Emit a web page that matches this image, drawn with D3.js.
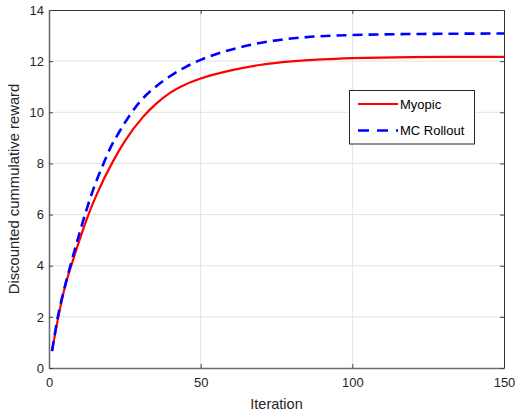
<!DOCTYPE html>
<html>
<head>
<meta charset="utf-8">
<script src="https://cdn.jsdelivr.net/npm/d3@7"></script>
<style>
  html, body { margin: 0; padding: 0; background: #fff; }
  svg { display: block; font-family: "Liberation Sans", Arial, Helvetica, sans-serif; }
</style>
</head>
<body>
<svg id="chart" width="516" height="415"></svg>
<script>
// ---- data ----
const myopicIter = [1, 3, 5, 8, 10, 13, 16, 21, 25, 31, 35, 40, 45, 50, 60, 70, 80, 90, 100, 120, 150];
const myopicVals = [0.66, 1.95, 3.05, 4.25, 4.98, 6.0, 6.86, 8.06, 8.87, 9.82, 10.3, 10.77, 11.09, 11.32, 11.64, 11.86, 11.99, 12.07, 12.12, 12.16, 12.17];

const mcIter = [1, 3, 5, 7, 10, 12, 15, 18, 20, 23, 27, 30, 35, 40, 45, 50, 55, 60, 70, 76, 85, 100, 120, 150];
const mcVals = [0.66, 2.05, 3.08, 3.98, 5.25, 6.05, 7.12, 8.0, 8.55, 9.2, 9.95, 10.42, 10.98, 11.42, 11.77, 12.05, 12.27, 12.45, 12.72, 12.83, 12.94, 13.02, 13.06, 13.08];

const seriesNames = ["Myopic", "MC Rollout"];
const xTicks = [0, 50, 100, 150];
const yTicks = [0, 2, 4, 6, 8, 10, 12, 14];
const xLabel = "Iteration";
const yLabel = "Discounted cummulative reward";

// ---- layout ----
const svg = d3.select("#chart");
const L = 49, R = 504, T = 10, B = 368;

const x = d3.scaleLinear().domain([0, 150]).range([L, R]);
const y = d3.scaleLinear().domain([0, 14]).range([B, T]);

// grid
const g = svg.append("g");
g.selectAll(".gx").data(xTicks.slice(1, -1)).enter().append("line")
  .attr("x1", d => x(d)).attr("x2", d => x(d)).attr("y1", T).attr("y2", B)
  .attr("stroke", "#e3e3e3").attr("stroke-width", 1);
g.selectAll(".gy").data(yTicks.slice(1, -1)).enter().append("line")
  .attr("x1", L).attr("x2", R).attr("y1", d => y(d)).attr("y2", d => y(d))
  .attr("stroke", "#e3e3e3").attr("stroke-width", 1);

// axes (ticks inside, MATLAB style)
const tickLen = 4;
const axB = svg.append("g").attr("transform", `translate(0,${B})`)
  .call(d3.axisBottom(x).tickValues(xTicks).tickSize(-tickLen).tickPadding(10).tickSizeOuter(0));
const axT = svg.append("g").attr("transform", `translate(0,${T})`)
  .call(d3.axisTop(x).tickValues(xTicks).tickSize(-tickLen).tickFormat("").tickSizeOuter(0));
const axL = svg.append("g").attr("transform", `translate(${L},0)`)
  .call(d3.axisLeft(y).tickValues(yTicks).tickSize(-tickLen).tickPadding(5).tickSizeOuter(0));
const axR = svg.append("g").attr("transform", `translate(${R},0)`)
  .call(d3.axisRight(y).tickValues(yTicks).tickSize(-tickLen).tickFormat("").tickSizeOuter(0));

[axB, axL].forEach(a => {
  a.select(".domain").attr("stroke", "#6e6e6e").attr("stroke-width", 1.6);
  a.selectAll(".tick line").attr("stroke", "#444");
  a.selectAll("text").attr("font-size", 13).attr("fill", "#262626")
    .attr("font-family", "'Liberation Sans', Arial, sans-serif");
});
[axT, axR].forEach(a => {
  a.select(".domain").attr("stroke", "#333").attr("stroke-width", 1);
  a.selectAll(".tick line").attr("stroke", "#444");
});

// lines
const lineGen = d3.line().x(d => x(d[0])).y(d => y(d[1])).curve(d3.curveMonotoneX);
const myopicData = myopicIter.map((t, i) => [t, myopicVals[i]]);
const mcData = mcIter.map((t, i) => [t, mcVals[i]]);

svg.append("path").datum(myopicData).attr("d", lineGen)
  .attr("fill", "none").attr("stroke", "#ff0000").attr("stroke-width", 2.2);
svg.append("path").datum(mcData).attr("d", lineGen)
  .attr("fill", "none").attr("stroke", "#0000ff").attr("stroke-width", 2.6)
  .attr("stroke-dasharray", "10,6");

// axis labels
svg.append("text").attr("x", (L + R) / 2).attr("y", 409).attr("text-anchor", "middle")
  .attr("font-size", 14.5).attr("fill", "#262626").text(xLabel);
svg.append("text").attr("transform", `translate(19,${(T + B) / 2}) rotate(-90)`)
  .attr("text-anchor", "middle").attr("font-size", 14.8).attr("fill", "#262626").text(yLabel);

// legend
const lg = svg.append("g");
lg.append("rect").attr("x", 349.5).attr("y", 90.5).attr("width", 125).attr("height", 53.5)
  .attr("fill", "#fff").attr("stroke", "#262626").attr("stroke-width", 1);
const legendY = [104, 130.5];
const legendStyles = [
  { color: "#ff0000", dash: null, w: 2.2 },
  { color: "#0000ff", dash: "11,8", w: 2.6 }
];
seriesNames.forEach((name, i) => {
  const ln = lg.append("line").attr("x1", 358).attr("x2", 398)
    .attr("y1", legendY[i]).attr("y2", legendY[i])
    .attr("stroke", legendStyles[i].color).attr("stroke-width", legendStyles[i].w);
  if (legendStyles[i].dash) ln.attr("stroke-dasharray", legendStyles[i].dash);
  lg.append("text").attr("x", 400).attr("y", legendY[i] + 4.5)
    .attr("font-size", 13).attr("fill", "#000").text(name);
});
</script>
</body>
</html>
